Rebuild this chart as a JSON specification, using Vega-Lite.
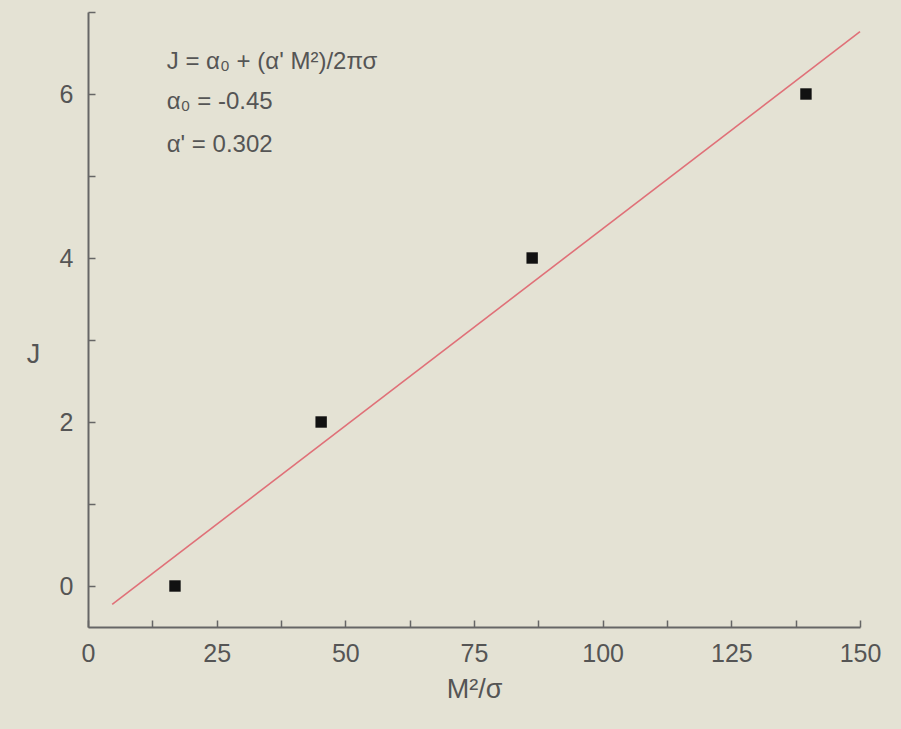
{
  "$schema": "https://vega.github.io/schema/vega-lite/v6.json",
  "width": 772,
  "height": 615,
  "autosize": {"type": "none"},
  "padding": {"left": 88, "top": 12, "right": 41, "bottom": 102},
  "background": "#e4e2d4",
  "config": {
    "view": {"stroke": null},
    "font": "Liberation Sans",
    "axis": {
      "domainColor": "#666666",
      "domainWidth": 2,
      "tickColor": "#666666",
      "tickWidth": 1.5,
      "grid": false,
      "labelColor": "#555555",
      "labelFontSize": 25,
      "titleColor": "#555555",
      "titleFontSize": 27,
      "titleFontWeight": "normal"
    }
  },
  "datasets": {
    "pts": [
      {"M": 16.9, "J": 0},
      {"M": 45.3, "J": 2},
      {"M": 86.3, "J": 4},
      {"M": 139.5, "J": 6}
    ],
    "fit": [
      {"M": 4.7, "J": -0.224},
      {"M": 150, "J": 6.76}
    ],
    "notes": [
      {"M": 15.3, "J": 6.39, "label": "J = α₀ + (α' M²)/2πσ"},
      {"M": 15.3, "J": 5.9, "label": "α₀ = -0.45"},
      {"M": 15.3, "J": 5.38, "label": "α' = 0.302"}
    ]
  },
  "layer": [
    {
      "data": {"name": "fit"},
      "mark": {"type": "line", "color": "#e07078", "strokeWidth": 1.6},
      "encoding": {
        "x": {
          "field": "M", "type": "quantitative",
          "scale": {"domain": [0, 150], "nice": false, "zero": false},
          "axis": {
            "title": "M²/σ",
            "titlePadding": 10,
            "values": [0, 12.5, 25, 37.5, 50, 62.5, 75, 87.5, 100, 112.5, 125, 137.5, 150],
            "labelExpr": "datum.value % 25 === 0 ? datum.label : ''",
            "tickSize": -7,
            "labelPadding": 21,
            "labelFlush": false
          }
        },
        "y": {
          "field": "J", "type": "quantitative",
          "scale": {"domain": [-0.5, 7], "nice": false, "zero": false},
          "axis": {
            "title": "J",
            "format": "d",
            "titleAngle": 0,
            "titleX": -55,
            "titleY": 342,
            "titleAlign": "center",
            "titleBaseline": "middle",
            "values": [0, 1, 2, 3, 4, 5, 6, 7],
            "labelExpr": "datum.value % 2 === 0 ? datum.label : ''",
            "tickSize": -7,
            "labelPadding": 22,
            "labelFlush": false
          }
        }
      }
    },
    {
      "data": {"name": "pts"},
      "mark": {"type": "square", "color": "#111111", "opacity": 1, "size": 130},
      "encoding": {
        "x": {"field": "M", "type": "quantitative"},
        "y": {"field": "J", "type": "quantitative"}
      }
    },
    {
      "data": {"name": "notes"},
      "mark": {"type": "text", "align": "left", "baseline": "middle", "fontSize": 24, "color": "#555555"},
      "encoding": {
        "x": {"field": "M", "type": "quantitative"},
        "y": {"field": "J", "type": "quantitative"},
        "text": {"field": "label"}
      }
    }
  ]
}
